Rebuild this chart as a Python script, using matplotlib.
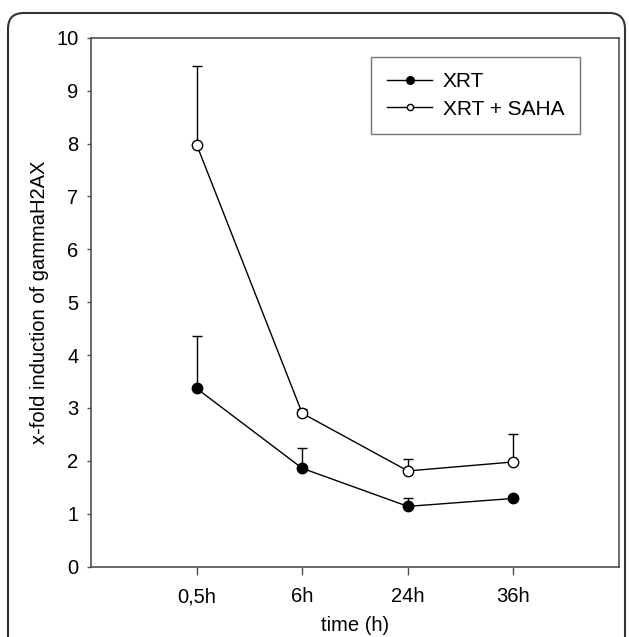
import matplotlib.pyplot as plt
from matplotlib.lines import Line2D
from matplotlib.patches import FancyBboxPatch

plt.rcParams['font.family'] = ['Liberation Sans', 'DejaVu Sans']

# Daten
zeitpunkte = ["0,5h", "6h", "24h", "36h"]
xrt = [3.37, 1.86, 1.14, 1.29]
xrt_err = [0.99, 0.39, 0.15, 0.0]
xrt_saha = [7.98, 2.90, 1.81, 1.98]
xrt_saha_err = [1.49, 0.08, 0.23, 0.53]

fig = plt.figure(figsize=(6.29, 6.37), dpi=100)
ax = fig.add_axes([0.1447, 0.1104, 0.8394, 0.8304])

pos = list(range(1, len(zeitpunkte) + 1))
spine_col = '#505050'

ax.errorbar(pos, xrt, yerr=[[0] * 4, xrt_err], color='black', lw=1,
            marker='o', ms=7.5, mfc='black', mec='black', capsize=3.6,
            elinewidth=1, capthick=1)
ax.errorbar(pos, xrt_saha, yerr=[[0] * 4, xrt_saha_err], color='black', lw=1,
            marker='o', ms=7.5, mfc='white', mec='black', capsize=3.6,
            elinewidth=1, capthick=1)

ax.set_xlim(0, 5)
ax.set_ylim(0, 10)
ax.set_xticks(pos)
ax.set_xticklabels(zeitpunkte)
ax.set_yticks(range(0, 11))
ax.tick_params(axis='x', direction='out', length=5.8, width=1, color=spine_col,
               labelsize=14.5, pad=9)
ax.tick_params(axis='y', direction='out', length=3, width=1, color=spine_col,
               labelsize=14.5, pad=6)
for s in ax.spines.values():
    s.set_color(spine_col)
    s.set_linewidth(1.2)

ax.set_xlabel('time (h)', fontsize=14.5)
ax.xaxis.set_label_coords(0.5, -0.094)
ax.set_ylabel('x-fold induction of gammaH2AX', fontsize=14.5)
ax.yaxis.set_label_coords(-0.079, 0.5)

# Legende ohne Fehlerbalken
handles = [
    Line2D([], [], color='black', lw=1, marker='o', ms=5.5, mfc='black', mec='black'),
    Line2D([], [], color='black', lw=1, marker='o', ms=4.5, mfc='white', mec='black'),
]
leg = ax.legend(handles, ['XRT', 'XRT + SAHA'], loc='upper left',
                bbox_to_anchor=(371 / 629, 1 - 56.7 / 637),
                bbox_transform=fig.transFigure, fontsize=15, frameon=True,
                fancybox=False, edgecolor=spine_col, handlelength=2.2,
                handletextpad=0.5, labelspacing=0.4, borderpad=0.75,
                borderaxespad=0)
leg.get_frame().set_linewidth(1)

# aeusserer Rahmen
rahmen = FancyBboxPatch((8 / 629, -0.05), 617 / 629, 1.05 - 13 / 637,
                        boxstyle='round,pad=0,rounding_size=0.025',
                        transform=fig.transFigure, fill=False,
                        edgecolor='#333333', lw=1.5, clip_on=False)
fig.patches.append(rahmen)

fig.savefig('out.png', dpi=100)
